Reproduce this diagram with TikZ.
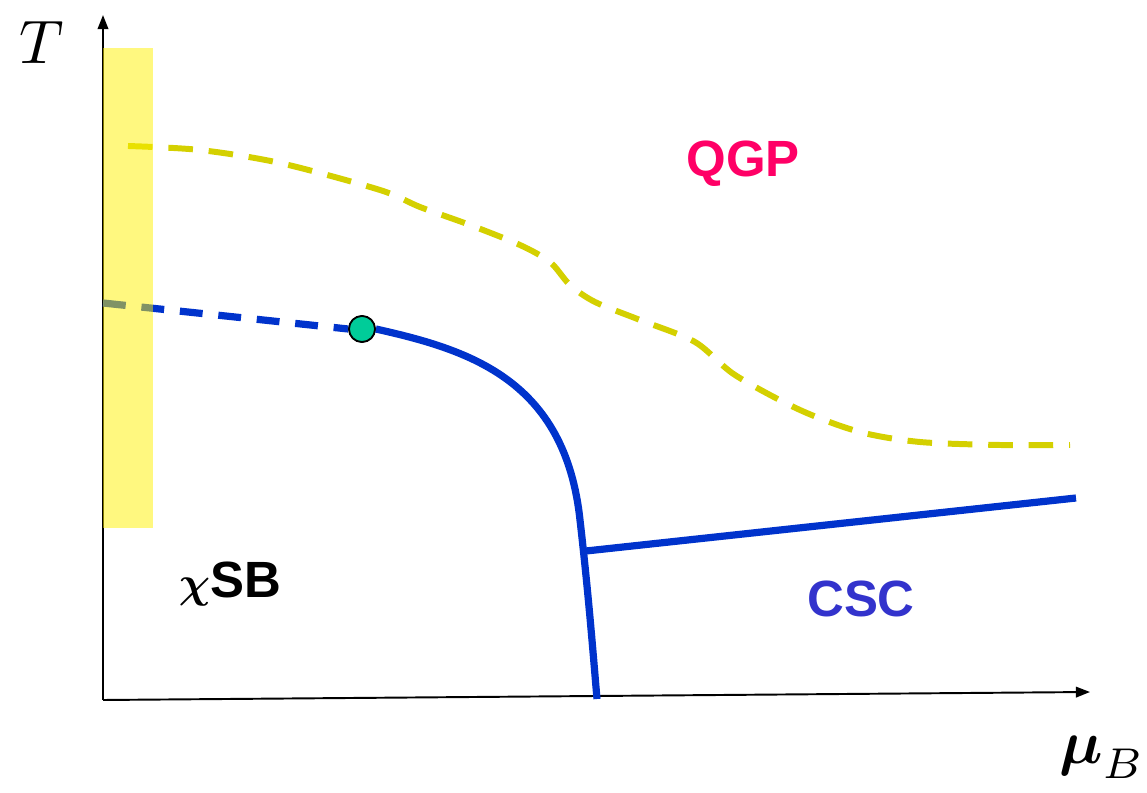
\documentclass[tikz,border=0pt]{standalone}
\usepackage{graphicx}
\usepackage{amsmath}
\usepackage{fontspec}
\setsansfont{Liberation Sans}
\usetikzlibrary{arrows.meta}
\definecolor{qgpcol}{HTML}{FF0066}
\definecolor{csccol}{HTML}{3333CC}
\definecolor{lineblue}{HTML}{0033CC}
\definecolor{curveyellow}{HTML}{D4D000}
\definecolor{cpgreen}{HTML}{00CC99}
\tikzset{
  axisline/.style={line width=1.1pt, -{Triangle[length=8pt,width=6pt]}},
  boundary/.style={lineblue, line width=4.1pt},
  crossover/.style={curveyellow, line width=3.4pt, dash pattern=on 14pt off 9pt},
  phaselabel/.style={font=\sffamily\bfseries\fontsize{29}{34}\selectfont},
  critpt/.style={circle, draw=black, line width=1pt, fill=cpgreen, inner sep=0pt, minimum size=0.52cm},
}
\begin{document}
\begin{tikzpicture}[x=0.02cm,y=-0.02cm]
\useasboundingbox (0,0) rectangle (1147,793);
% axes
\coordinate (origin) at (103,700);
\coordinate (ytop) at (103,15);
\coordinate (xend) at (1090,692);
\draw[axisline] (origin) -- (ytop);
\draw[axisline] (origin) -- (xend);
\node (Tlab) at (42,42) {\scalebox{3.5}{$T$}};
\node (mulab) at (1102,757) {\scalebox{3.5}{$\boldsymbol{\mu}_B$}};
% crossover (yellow dashed)
\draw[crossover] plot[smooth, tension=0.5] coordinates {(128,146) (200,150) (280,163) (380,190) (420,207) (470,225) (520,245) (550,262) (570,285) (595,302) (640,320) (695,342) (735,375) (800,410) (860,432) (920,442) (1000,445) (1070,445)};
% dashed first-order line continuation
\coordinate (lstart) at (103,303);
\node[critpt] (cp) at (362,329) {};
\draw[lineblue, line width=4.1pt, dash pattern=on 13pt off 9pt] (lstart) -- (cp.west);
% first-order line
\coordinate (bottom) at (597,699);
\coordinate (junction) at (586,551);
\coordinate (cscend) at (1076,498);
\draw[boundary] (cp.east) .. controls (470,350) and (565,380) .. (580,520) .. controls (588,590) and (592,640) .. (bottom);
\draw[boundary] (junction) -- (cscend);
\node[critpt] at (cp) {};
% yellow band on top (semi-transparent)
\fill[yellow, opacity=0.5] (103,48) rectangle (153,528);
% labels
\node[phaselabel, text=qgpcol] (qgp) at (743,164) {QGP};
\node[phaselabel, text=csccol] (csc) at (861,599) {CSC};
\node[phaselabel, text=black] (xsb) at (230,584) {$\boldsymbol{\chi}$SB};
\end{tikzpicture}
\end{document}
